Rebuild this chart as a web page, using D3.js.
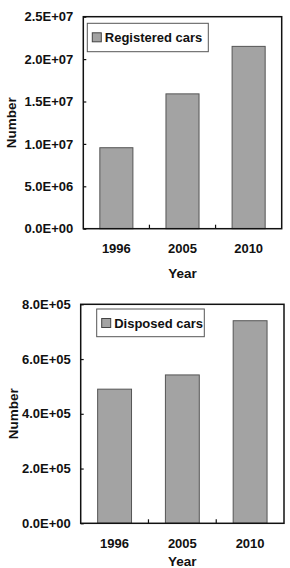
<html>
    <head>
        <title>Cars</title>
        <script type="text/javascript" src="https://cdn.jsdelivr.net/npm/d3@7"></script>
        <style>
            body { margin: 0; background: #fff; }
            text { font-family: "Liberation Sans", Arial, sans-serif; font-weight: bold; fill: #111; }
        </style>
    </head>
    <body>
        <script type="text/javascript">
            // data
            let years = ["1996", "2005", "2010"]
            let registered = [9.55e6, 1.59e7, 2.15e7]
            let disposed = [4.9e5, 5.42e5, 7.4e5]
            let regTicks = [0, 5e6, 1e7, 1.5e7, 2e7, 2.5e7]
            let dispTicks = [0, 2e5, 4e5, 6e5, 8e5]

            let w = 290
            let h = 568
            let svg = d3.select("body")
                        .append("svg")
                        .attr("width", w)
                        .attr("height", h)

            // excel style 0.0E+00
            let sci = (v) => {
                let s = d3.format(".1e")(v).split("e")
                let e = +s[1]
                return s[0] + "E" + (e < 0 ? "-" : "+") + String(Math.abs(e)).padStart(2, "0")
            }

            function panel(p) {
                let x = d3.scaleBand()
                          .domain(years)
                          .range([p.left, p.right])
                          .paddingInner(0.5)
                          .paddingOuter(0.25)
                let y = d3.scaleLinear()
                          .domain([0, p.max])
                          .range([p.bottom, p.top])

                // bars
                svg.selectAll(null)
                    .data(p.values)
                    .enter()
                    .append("rect")
                    .attr("x", (d, i) => x(years[i]))
                    .attr("width", x.bandwidth())
                    .attr("y", d => y(d))
                    .attr("height", d => y(0) - y(d))
                    .attr("fill", "#a3a3a3")
                    .attr("stroke", "#555")
                    .attr("stroke-width", 1)

                // frame
                svg.append("rect")
                    .attr("x", p.left)
                    .attr("y", p.top)
                    .attr("width", p.right - p.left)
                    .attr("height", p.bottom - p.top)
                    .attr("fill", "none")
                    .attr("stroke", "#111")
                    .attr("stroke-width", 1.5)

                // y axis
                let yAxis = d3.axisLeft(y)
                              .tickValues(p.ticks)
                              .tickFormat(sci)
                              .tickSizeInner(-3)
                              .tickSizeOuter(0)
                              .tickPadding(10)
                let gy = svg.append("g")
                    .attr("transform", "translate(" + p.left + ",0)")
                    .call(yAxis)
                gy.select(".domain").remove()
                gy.selectAll("line").attr("stroke", "#111").attr("stroke-width", 1.2)
                gy.selectAll("text").attr("font-size", 13).attr("fill", "#111")
                    .attr("font-family", null)

                // x axis, ticks between the categories
                let gx = svg.append("g")
                    .attr("transform", "translate(0," + p.bottom + ")")
                gx.selectAll("line")
                    .data(years.slice(1))
                    .enter()
                    .append("line")
                    .attr("x1", d => x(d) - x.step() * x.paddingInner() / 2)
                    .attr("x2", d => x(d) - x.step() * x.paddingInner() / 2)
                    .attr("y1", 0)
                    .attr("y2", -4)
                    .attr("stroke", "#111")
                    .attr("stroke-width", 1.2)
                gx.selectAll("text")
                    .data(years)
                    .enter()
                    .append("text")
                    .attr("x", d => x(d) + x.bandwidth() / 2)
                    .attr("y", 24.5)
                    .attr("text-anchor", "middle")
                    .attr("font-size", 13)
                    .text(d => d)

                // axis titles
                svg.append("text")
                    .attr("x", (p.left + p.right) / 2)
                    .attr("y", p.yearY)
                    .attr("text-anchor", "middle")
                    .attr("font-size", 13.5)
                    .text("Year")
                svg.append("text")
                    .attr("transform", "translate(" + p.numX + "," + (p.top + p.bottom) / 2 + ") rotate(-90)")
                    .attr("text-anchor", "middle")
                    .attr("font-size", 13.5)
                    .text("Number")

                // legend
                let lg = svg.append("g")
                lg.append("rect")
                    .attr("x", p.leg[0])
                    .attr("y", p.leg[1])
                    .attr("width", p.leg[2])
                    .attr("height", p.leg[3])
                    .attr("fill", "#fff")
                    .attr("stroke", "#555")
                    .attr("stroke-width", 1)
                lg.append("rect")
                    .attr("x", p.leg[0] + 5)
                    .attr("y", p.leg[1] + 9.5)
                    .attr("width", 9)
                    .attr("height", 9)
                    .attr("fill", "#a3a3a3")
                    .attr("stroke", "#444")
                lg.append("text")
                    .attr("x", p.leg[0] + 17.5)
                    .attr("y", p.leg[1] + 19)
                    .attr("font-size", 13)
                    .text(p.label)
            }

            panel({
                values: registered, ticks: regTicks, max: 2.5e7,
                left: 83.3, right: 281.7, top: 16.7, bottom: 228.7,
                yearY: 278, numX: 15.5,
                leg: [87.3, 23.3, 121, 28.4], label: "Registered cars"
            })
            panel({
                values: disposed, ticks: dispTicks, max: 8e5,
                left: 80.7, right: 284, top: 304.3, bottom: 523.3,
                yearY: 566, numX: 18.2,
                leg: [96.7, 309, 107.6, 27.7], label: "Disposed cars"
            })
        </script>
    </body>
</html>
